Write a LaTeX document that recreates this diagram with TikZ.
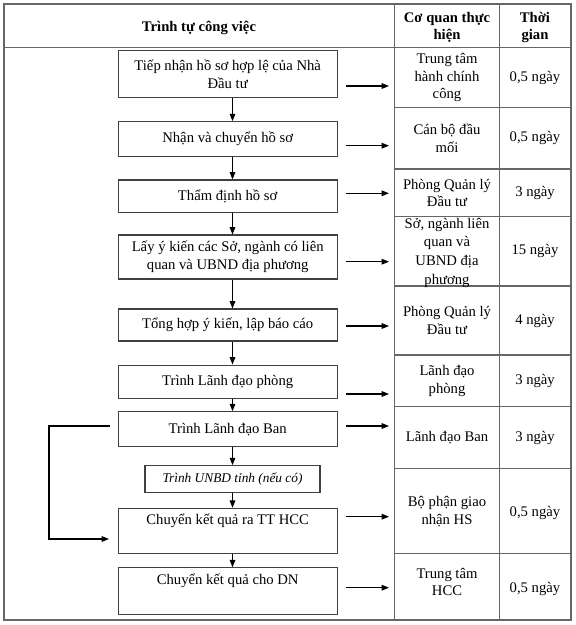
\documentclass[tikz,border=0pt]{standalone}
\usepackage{fontspec}
\setmainfont{Liberation Serif}
\usetikzlibrary{arrows.meta}
\newcommand\fsz{\fontsize{11}{13.2}\selectfont}
\begin{document}
\begin{tikzpicture}[x=0.75pt,y=-0.75pt,
  font=\fsz,
  grid/.style={draw=black!60, line width=0.8pt},
  box/.style={draw=black!75, line width=0.8pt, minimum width=164pt, inner sep=0pt, align=center, font=\fsz},
  hdr/.style={align=center, inner sep=0pt, font=\fsz\bfseries},
  cell/.style={align=center, inner sep=0pt, font=\fsz},
  arr/.style={draw=black, line width=0.9pt, -{Triangle[length=5.5pt,width=4.2pt]}},
]
\useasboundingbox (0,0) rectangle (575,625);
% table grid
\draw[grid] (4,4) rectangle (571,620);
\draw[grid] (4,47.5) -- (571,47.5);
\draw[grid] (394.5,4) -- (394.5,620);
\draw[grid] (499.5,4) -- (499.5,620);
\foreach \y in {107.5,169,216.5,286,355,406.5,468.5,553.5}
  \draw[grid] (394.5,\y) -- (571,\y);
% header
\node[hdr] (h1) at (199,27.5) {Trình tự công việc};
\node[hdr] (h2) at (447,27.5) {Cơ quan thực\\hiện};
\node[hdr] (h3) at (535,27.5) {Thời\\gian};
% column 2 and 3 cells
\node[cell] (c1) at (447,77.5) {Trung tâm\\hành chính\\công};
\node[cell] (t1) at (535,77.5) {0,5 ngày};
\node[cell] (c2) at (447,138.4) {Cán bộ đầu\\mối};
\node[cell] (t2) at (535,138.4) {0,5 ngày};
\node[cell] (c3) at (447,192.9) {Phòng Quản lý\\Đầu tư};
\node[cell] (t3) at (535,192.9) {3 ngày};
\node[cell, font=\fontsize{11}{14}\selectfont] (c4) at (447,252.5) {Sở, ngành liên\\quan và\\UBND địa\\phương};
\node[cell] (t4) at (535,251.4) {15 ngày};
\node[cell] (c5) at (447,320.5) {Phòng Quản lý\\Đầu tư};
\node[cell] (t5) at (535,320.5) {4 ngày};
\node[cell] (c6) at (447,380.9) {Lãnh đạo\\phòng};
\node[cell] (t6) at (535,380.9) {3 ngày};
\node[cell] (c7) at (447,437.5) {Lãnh đạo Ban};
\node[cell] (t7) at (535,437.5) {3 ngày};
\node[cell] (c8) at (447,511.5) {Bộ phận giao\\nhận HS};
\node[cell] (t8) at (535,512.5) {0,5 ngày};
\node[cell] (c9) at (447,582) {Trung tâm\\HCC};
\node[cell] (t9) at (535,589) {0,5 ngày};
% flow boxes
\node[box, minimum height=34.95pt] (b1) at (227.7,74) {Tiếp nhận hồ sơ hợp lệ của Nhà\\Đầu tư};
\node[box, minimum height=26.25pt] (b2) at (227.7,139.2) {Nhận và chuyển hồ sơ};
\node[box, minimum height=24.5pt] (b3) at (227.7,196.3) {Thẩm định hồ sơ};
\node[box, minimum height=33pt] (b4) at (227.7,257) {Lấy ý kiến các Sở, ngành có liên\\quan và UBND địa phương};
\node[box, minimum height=24pt] (b5) at (227.7,325) {Tổng hợp ý kiến, lập báo cáo};
\node[box, minimum height=25pt] (b6) at (227.7,381.7) {Trình Lãnh đạo phòng};
\node[box, minimum height=26.25pt] (b7) at (227.7,429.2) {Trình Lãnh đạo Ban};
\node[box, minimum width=131.25pt, minimum height=20.25pt, font=\fontsize{10}{12}\selectfont\itshape] (bs) at (232.5,479.2) {Trình UNBD tỉnh (nếu có)};
\node[box, text height=12.5pt, text depth=21.25pt] (b9) at (227.7,530.8) {Chuyển kết quả ra TT HCC};
\node[box, text height=12.5pt, text depth=22.2pt] (b10) at (227.7,590.9) {Chuyển kết quả cho DN};
% vertical arrows
\coordinate (ax) at (232.5,0);
\draw[arr] (ax |- b1.south) -- (ax |- b2.north);
\draw[arr] (ax |- b2.south) -- (ax |- b3.north);
\draw[arr] (ax |- b3.south) -- (ax |- b4.north);
\draw[arr] (ax |- b4.south) -- (ax |- b5.north);
\draw[arr] (ax |- b5.south) -- (ax |- b6.north);
\draw[arr] (ax |- b6.south) -- (ax |- b7.north);
\draw[arr] (ax |- b7.south) -- (ax |- bs.north);
\draw[arr] (ax |- bs.south) -- (ax |- b9.north);
\draw[arr] (ax |- b9.south) -- (ax |- b10.north);
% horizontal arrows
\foreach \n/\y in {1/86,2/145.7,3/193.3,4/261.7,5/326,6/394,7/426,9/516.7,10/587.7}{
  \coordinate (hs\n) at (346,\y);
  \coordinate (he\n) at (389,\y);
  \draw[arr] (hs\n) -- (he\n);
}
% loop from Trinh Lanh dao Ban to Chuyen ket qua
\coordinate (ls) at (110,426);
\coordinate (le) at (109,539);
\draw[arr] (ls) -- (49,426) |- (le);
\end{tikzpicture}
\end{document}
